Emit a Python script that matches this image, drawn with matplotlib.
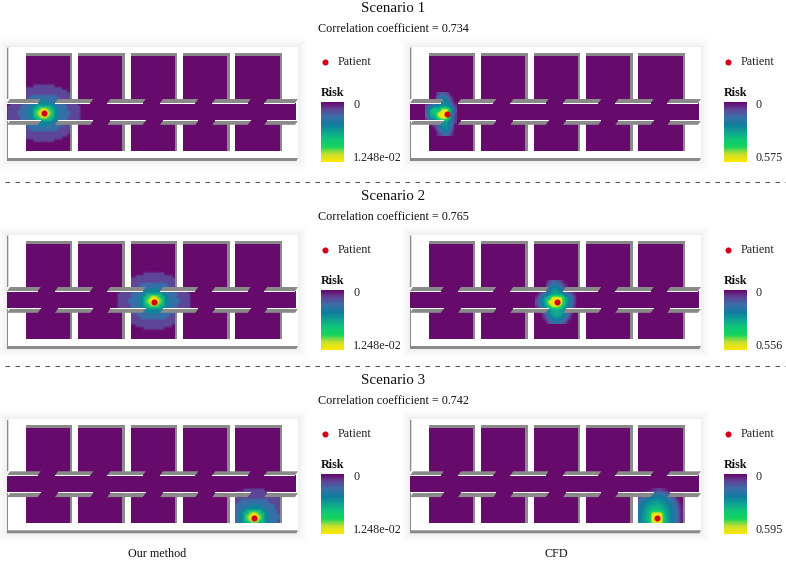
import numpy as np
import matplotlib
matplotlib.use("Agg")
import matplotlib.pyplot as plt
from matplotlib.colors import LinearSegmentedColormap
from matplotlib.patches import Polygon, Rectangle, PathPatch
from matplotlib.path import Path

plt.rcParams['font.family'] = ['Liberation Serif', 'DejaVu Serif']

# text
scenarios = ["Scenario 1", "Scenario 2", "Scenario 3"]
correlations = [0.734, 0.765, 0.742]
our_max = ["1.248e-02", "1.248e-02", "1.248e-02"]
cfd_max = ["0.575", "0.556", "0.595"]

# patient positions (x, y in the frame of the first row), and the room each one sits in
our_patient = [(43.7, 113.3), (154.3, 113.5), (254.0, 145.4)]
cfd_patient = [(446.7, 114.0), (557.3, 113.5), (657.3, 145.4)]
patient_room = [0, 2, 4]

# risk rings of our method: outer radius -> normalised risk
ring_radius = [3, 5.5, 8, 11, 16, 25, 37]
ring_risk = [1.0, 0.95, 0.8, 0.58, 0.40, 0.26, 0.12]

# CFD risk read on a 4 px grid, first cell is (dx, dy) from the patient
cfd1_origin = (-20, -20)
cfd1_risk = [
    [0, 0, 0, .15, .20, .15, 0, 0],
    [0, 0, 0, .30, .35, .30, .10, 0],
    [0, 0, .10, .35, .42, .38, .20, 0],
    [.15, .30, .40, .40, .45, .42, .30, .10],
    [.20, .55, .65, .60, .97, .95, .50, .15],
    [.25, .55, .60, 1.0, 1.0, 1.0, .45, .10],
    [.15, .45, .50, .80, .97, .85, .40, .10],
    [0, .20, .30, .35, .45, .45, .30, .10],
    [0, 0, .10, .30, .45, .45, .30, 0],
    [0, 0, 0, .20, .35, .40, .20, 0],
    [0, 0, 0, .10, .20, .25, .10, 0],
]
cfd2_origin = (-20, -20)
cfd2_risk = [
    [0, 0, 0, .10, .20, .20, .10, 0, 0, 0, 0],
    [0, 0, 0, .25, .35, .35, .25, .10, 0, 0, 0],
    [0, 0, .10, .30, .45, .45, .35, .20, 0, 0, 0],
    [0, .15, .30, .40, .50, .50, .45, .35, .20, .10, 0],
    [.10, .30, .50, .60, .97, .97, .92, .55, .40, .20, 0],
    [.15, .35, .50, .95, 1.0, 1.0, .97, .60, .40, .20, 0],
    [.10, .30, .45, .70, .95, .95, .80, .50, .35, .15, 0],
    [0, .10, .30, .45, .50, .55, .50, .40, .25, .10, 0],
    [0, 0, .15, .40, .50, .55, .50, .40, .20, 0, 0],
    [0, 0, .10, .30, .40, .45, .40, .30, .10, 0, 0],
    [0, 0, 0, .15, .25, .30, .25, .15, 0, 0, 0],
]
cfd3_origin = (-20, -28)
cfd3_risk = [
    [0, 0, 0, 0, .05, .10, .10, .05, 0, 0, 0, 0],
    [0, 0, .10, .20, .25, .28, .28, .25, .15, .05, 0, 0],
    [.05, .20, .28, .35, .38, .40, .40, .35, .28, .20, .05, 0],
    [.20, .30, .38, .42, .45, .48, .45, .42, .35, .28, .15, 0],
    [.25, .35, .42, .50, .52, .55, .52, .45, .40, .30, .20, .05],
    [.28, .38, .45, .55, .60, .62, .58, .50, .42, .32, .22, .05],
    [.30, .40, .48, .58, .97, .98, .97, .55, .45, .34, .25, .05],
    [.30, .40, .48, .60, .98, 1.0, .98, .58, .45, .35, .25, .05],
    [.30, .40, .48, .58, .97, .98, .97, .55, .45, .34, .25, .05],
    [.28, .38, .45, .52, .60, .62, .58, .50, .42, .32, .22, .05],
]
cfd_fields = [(cfd1_origin, cfd1_risk), (cfd2_origin, cfd2_risk), (cfd3_origin, cfd3_risk)]

# plan layout in pixels
row_shift = [0, 188, 372.3]
col_shift = [0, 403]
room_left = [25.7, 78.1, 130.5, 182.9, 235.3]
room_w = 44.3
door_walls = [(7, 40.7), (55, 93.3), (107.3, 145.7), (160, 198.3), (212.3, 250.7), (264.3, 298)]

risk_colors = ["#660a6c", "#5d4a9a", "#3a6fa8", "#0f7d9c", "#10a391",
               "#0fc778", "#15d45f", "#c5e02e", "#fde800"]
risk_cmap = LinearSegmentedColormap.from_list("risk", risk_colors)
wall_gray = "#8a8a8a"
dot_red = "#d4001a"
dot_size = 4.4
FS = 8.7


def rect_path(rects, dx, dy):
    verts, codes = [], []
    for x0, y0, x1, y1 in rects:
        verts += [(x0 + dx, y0 + dy), (x1 + dx, y0 + dy), (x1 + dx, y1 + dy), (x0 + dx, y1 + dy), (x0 + dx, y0 + dy)]
        codes += [Path.MOVETO, Path.LINETO, Path.LINETO, Path.LINETO, Path.CLOSEPOLY]
    return Path(verts, codes)


def floor_path(dx, dy):
    rects = [(7, 103, 296, 120)]
    for x in room_left:
        rects.append((x, 56, x + room_w, 104))
        rects.append((x, 119, x + room_w, 151))
    return rect_path(rects, dx, dy)


def spread_path(room, dx, dy):
    # risk stays in the corridor and the patient's own room
    x = room_left[room]
    rects = [(7, 103, 296, 120), (x, 56, x + room_w, 104), (x, 119, x + room_w, 151)]
    return rect_path(rects, dx, dy)


def ring_field(ax, px, py, clip):
    cell = 2.6
    xs = np.arange(px - 20 * cell, px + 20 * cell, cell)
    ys = np.arange(py - 20 * cell, py + 20 * cell, cell)
    xx, yy = np.meshgrid(xs + cell / 2, ys + cell / 2)
    dist = np.hypot(xx - px, (yy - py) * 1.3)
    idx = np.searchsorted(ring_radius, dist)
    values = np.append(ring_risk, 0.0)[idx]
    im = ax.imshow(values, extent=(xs[0], xs[-1] + cell, ys[-1] + cell, ys[0]),
                   cmap=risk_cmap, vmin=0, vmax=1, interpolation="bilinear", zorder=3)
    im.set_clip_path(PathPatch(clip, transform=ax.transData))


def grid_field(ax, px, py, origin, risk, clip):
    risk = np.array(risk)
    x0 = px + origin[0] - 2
    y0 = py + origin[1] - 2
    x1 = x0 + risk.shape[1] * 4
    y1 = y0 + risk.shape[0] * 4
    im = ax.imshow(risk, extent=(x0, x1, y1, y0), cmap=risk_cmap, vmin=0, vmax=1,
                   interpolation="bilinear", zorder=3)
    im.set_clip_path(PathPatch(clip, transform=ax.transData))


def draw_plan(ax, dx, dy):
    # soft shadow, then the white slab
    for grow, alpha in zip([9, 7, 5, 3, 1], [0.008, 0.01, 0.012, 0.015, 0.02]):
        ax.add_patch(Rectangle((7 + dx - grow, 47 + dy - grow), 291 + 2 * grow, 114 + 2 * grow,
                               fc="black", ec="none", alpha=alpha, zorder=1))
    ax.add_patch(Rectangle((7 + dx, 47 + dy), 291, 114, fc="white", ec="none", zorder=1))
    # outer walls
    ax.add_patch(Polygon([(7 + dx, 158 + dy), (298 + dx, 158 + dy), (296.5 + dx, 161 + dy), (7 + dx, 161 + dy)],
                         fc=wall_gray, ec="none", zorder=5))
    ax.add_patch(Polygon([(7 + dx, 48 + dy), (8.3 + dx, 47 + dy), (8.3 + dx, 99 + dy), (7 + dx, 99 + dy)],
                         fc=wall_gray, ec="none", zorder=5))
    ax.add_patch(Rectangle((7 + dx, 121 + dy), 1.3, 38, fc=wall_gray, ec="none", zorder=5))
    # room walls
    for x in room_left:
        ax.add_patch(Rectangle((x + dx, 52.5 + dy), room_w + 2.4, 3.5, fc=wall_gray, ec="none", zorder=5))
        ax.add_patch(Rectangle((x + room_w + dx, 52.5 + dy), 2.4, 47, fc=wall_gray, ec="none", zorder=5))
        ax.add_patch(Rectangle((x + room_w + dx, 121 + dy), 2.4, 30, fc=wall_gray, ec="none", zorder=5))
    # slanted door walls either side of the corridor
    for x0, x1 in door_walls:
        ax.add_patch(Polygon([(x0 + dx, 103 + dy), (x0 + 3 + dx, 99 + dy), (x1 + dx, 99 + dy), (x1 - 3 + dx, 103 + dy)],
                             fc=wall_gray, ec="none", zorder=6))
        ax.add_patch(Rectangle((x0 + dx, 103 + dy), x1 - x0 - 3, 0.8, fc="white", ec="none", zorder=6))
        ax.add_patch(Polygon([(x0 + dx, 124.8 + dy), (x0 + 3 + dx, 120.8 + dy), (x1 + dx, 120.8 + dy), (x1 - 3 + dx, 124.8 + dy)],
                             fc=wall_gray, ec="none", zorder=6))
        ax.add_patch(Rectangle((x0 + 3 + dx, 119.6 + dy), x1 - x0 - 3, 1.2, fc="white", ec="none", zorder=6))


def draw_key(ax, x, dy, max_label):
    ax.plot([x + 3.5], [62 + dy], "o", ms=dot_size, color=dot_red, mec="none", zorder=7)
    ax.text(x + 17, 62 + dy, "Patient", fontsize=FS, va="center", ha="left", color="#222222")
    ax.text(x, 93 + dy, "Risk", fontsize=FS, fontweight="bold", va="center", ha="left", color="#111111")
    grad = np.linspace(0, 1, 60).reshape(-1, 1)
    ax.imshow(grad, extent=(x, x + 23, 162 + dy, 102.5 + dy), cmap=risk_cmap, vmin=0, vmax=1,
              aspect="auto", zorder=3)
    ax.text(x + 32, 105 + dy, "0", fontsize=FS, va="center", ha="left", color="#222222")
    ax.text(x + 32, 157.5 + dy, max_label, fontsize=FS, va="center", ha="left", color="#222222")


if __name__ == "__main__":
    fig = plt.figure(figsize=(7.86, 5.61), dpi=100)
    ax = fig.add_axes([0, 0, 1, 1])

    for i, dy in enumerate(row_shift):
        ax.text(393, 8 + dy, scenarios[i], fontsize=10.8, ha="center", va="center", color="#111111")
        ax.text(393, 29 + dy, f"Correlation coefficient = {correlations[i]:.3f}", fontsize=FS,
                ha="center", va="center", color="#111111")

        for j, dx in enumerate(col_shift):
            draw_plan(ax, dx, dy)
            base = ax.imshow(np.zeros((2, 2)), extent=(dx, dx + 310, dy + 170, dy + 40), cmap=risk_cmap,
                             vmin=0, vmax=1, zorder=2)
            base.set_clip_path(PathPatch(floor_path(dx, dy), transform=ax.transData))
            clip = spread_path(patient_room[i], dx, dy)
            if j == 0:
                px, py = our_patient[i][0], our_patient[i][1] + dy
                ring_field(ax, px, py, clip)
            else:
                px, py = cfd_patient[i][0], cfd_patient[i][1] + dy
                origin, risk = cfd_fields[i]
                grid_field(ax, px, py, origin, risk, clip)
            ax.plot([px], [py], "o", ms=dot_size, color=dot_red, mec="none", zorder=8)

        draw_key(ax, 321, dy, our_max[i])
        draw_key(ax, 724, dy, cfd_max[i])

    for y in [182, 366]:
        ax.plot([5, 786], [y, y], color="#555555", lw=0.8, dashes=(4, 5))

    ax.text(157, 554, "Our method", fontsize=FS, ha="center", va="center", color="#111111")
    ax.text(556, 554, "CFD", fontsize=FS, ha="center", va="center", color="#111111")

    ax.set_xlim(0, 786)
    ax.set_ylim(561, 0)
    ax.set_aspect("auto")
    ax.axis("off")
    fig.savefig("out.png", dpi=100)
